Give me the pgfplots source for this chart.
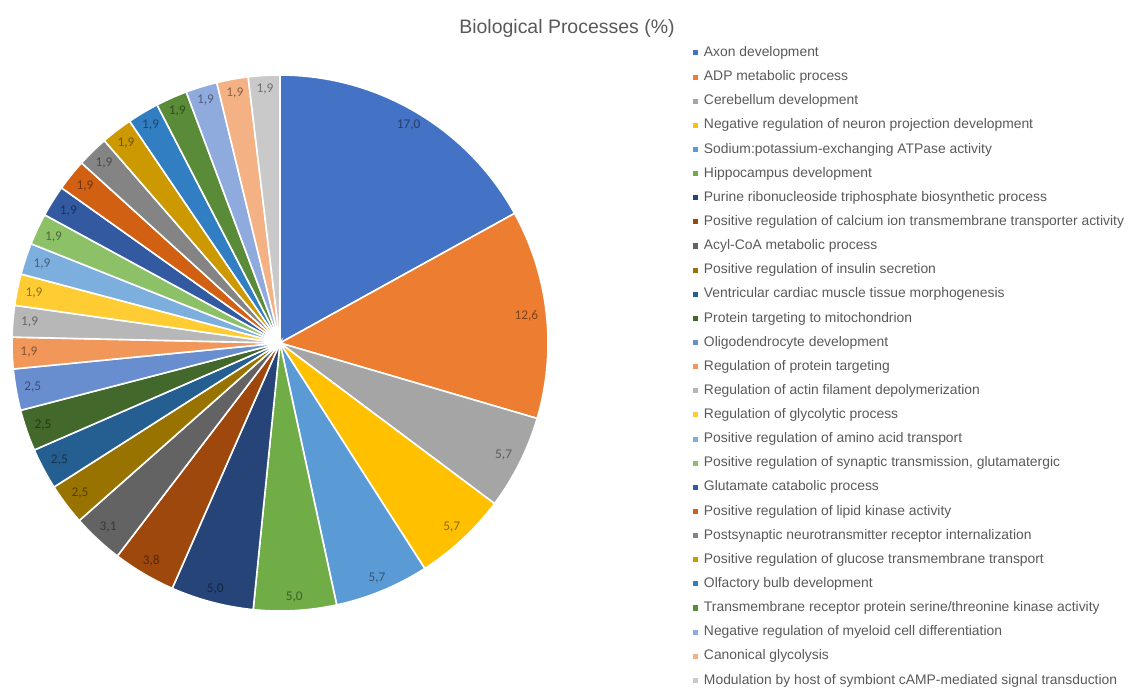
\documentclass[border=0pt]{standalone}
\usepackage{pgfplots}
\pgfplotsset{compat=1.18}
\usepackage{pgfplotstable}
\usepackage{fontspec}
\setmainfont{Liberation Sans}
\newfontfamily\labelfont{Carlito}

\definecolor{c1}{HTML}{4472C4}
\definecolor{c2}{HTML}{ED7D31}
\definecolor{c3}{HTML}{A5A5A5}
\definecolor{c4}{HTML}{FFC000}
\definecolor{c5}{HTML}{5B9BD5}
\definecolor{c6}{HTML}{70AD47}
\definecolor{c7}{HTML}{264478}
\definecolor{c8}{HTML}{9E480E}
\definecolor{c9}{HTML}{636363}
\definecolor{c10}{HTML}{997300}
\definecolor{c11}{HTML}{255E91}
\definecolor{c12}{HTML}{43682B}
\definecolor{c13}{HTML}{698ED0}
\definecolor{c14}{HTML}{F1975A}
\definecolor{c15}{HTML}{B7B7B7}
\definecolor{c16}{HTML}{FFCD33}
\definecolor{c17}{HTML}{7CAFDD}
\definecolor{c18}{HTML}{8CC168}
\definecolor{c19}{HTML}{335AA1}
\definecolor{c20}{HTML}{D26012}
\definecolor{c21}{HTML}{848484}
\definecolor{c22}{HTML}{CC9900}
\definecolor{c23}{HTML}{327EC2}
\definecolor{c24}{HTML}{5A8B39}
\definecolor{c25}{HTML}{8FAADC}
\definecolor{c26}{HTML}{F4B183}
\definecolor{c27}{HTML}{C9C9C9}
\definecolor{txt}{HTML}{595959}

\pgfplotstableread[col sep=semicolon]{
name;value;label
Axon development;17.0;17,0
ADP metabolic process;12.6;12,6
Cerebellum development;5.7;5,7
Negative regulation of neuron projection development;5.7;5,7
Sodium:potassium-exchanging ATPase activity;5.7;5,7
Hippocampus development;5.0;5,0
Purine ribonucleoside triphosphate biosynthetic process;5.0;5,0
Positive regulation of calcium ion transmembrane transporter activity;3.8;3,8
Acyl-CoA metabolic process;3.1;3,1
Positive regulation of insulin secretion;2.5;2,5
Ventricular cardiac muscle tissue morphogenesis;2.5;2,5
Protein targeting to mitochondrion;2.5;2,5
Oligodendrocyte development;2.5;2,5
Regulation of protein targeting;1.9;1,9
Regulation of actin filament depolymerization;1.9;1,9
Regulation of glycolytic process;1.9;1,9
Positive regulation of amino acid transport;1.9;1,9
Positive regulation of synaptic transmission, glutamatergic;1.9;1,9
Glutamate catabolic process;1.9;1,9
Positive regulation of lipid kinase activity;1.9;1,9
Postsynaptic neurotransmitter receptor internalization;1.9;1,9
Positive regulation of glucose transmembrane transport;1.9;1,9
Olfactory bulb development;1.9;1,9
Transmembrane receptor protein serine/threonine kinase activity;1.9;1,9
Negative regulation of myeloid cell differentiation;1.9;1,9
Canonical glycolysis;1.9;1,9
Modulation by host of symbiont cAMP-mediated signal transduction;1.9;1,9
}\data

\tikzset{lbl/.style={font=\labelfont\fontsize{10}{12}\selectfont, inner sep=1pt}}

\begin{document}
\begin{tikzpicture}
\useasboundingbox (-9pt,-57.75pt) rectangle (838.5pt,458.25pt);
\begin{axis}[
  at={(0,0)}, anchor=south west,
  scale only axis, width=402pt, height=402pt,
  xmin=-1, xmax=1, ymin=-1, ymax=1,
  hide axis, clip=false,
  legend cell align=left,
  legend image code/.code={\path[#1, draw=none] (0pt,-1.9pt) rectangle (3.8pt,1.9pt); \path[draw=none, fill=none] (0pt,0pt) -- (8.25pt,0pt);},
  legend style={draw=none, fill=none, inner sep=0pt, outer sep=0pt,
    font=\fontsize{10.4}{12}\selectfont, text=txt,
    row sep=8.6pt, column sep=0pt,
    nodes={inner sep=0pt, text height=7.5pt, text depth=2pt},
    at={(1.2705,1.0530)}, anchor=north west},
]
\def\total{0}
\pgfplotsforeachungrouped \i in {0,...,26} {
  \pgfplotstablegetelem{\i}{value}\of\data
  \pgfmathsetmacro\total{\total+\pgfplotsretval}
}
\def\cum{0}
\pgfplotsforeachungrouped \i in {0,...,26} {
  \pgfplotstablegetelem{\i}{value}\of\data \let\v\pgfplotsretval
  \pgfplotstablegetelem{\i}{name}\of\data \let\nm\pgfplotsretval
  \pgfplotstablegetelem{\i}{label}\of\data \let\lb\pgfplotsretval
  \pgfmathsetmacro\a{90-\cum/\total*360}
  \pgfmathsetmacro\cum{\cum+\v}
  \pgfmathsetmacro\b{90-\cum/\total*360}
  \pgfmathsetmacro\m{(\a+\b)/2}
  \pgfmathsetmacro\lx{0.975*cos(\m)}
  \pgfmathsetmacro\ly{0.975*sin(\m)}
  \pgfmathtruncatemacro\k{\i+1}
  \edef\temp{%
    \noexpand\addplot[fill=c\k, draw=white, line width=1.2pt, domain=\b:\a, samples=40, variable=\noexpand\t]
      ({cos(\noexpand\t)},{sin(\noexpand\t)}) -- (axis cs:0,0) -- cycle;
    \noexpand\addlegendentry{\nm}
    \noexpand\node[lbl, text=c\k!55!black, anchor=\m] at (axis cs:\lx,\ly) {\lb};
  }%
  \temp
}
\node[font=\fontsize{14.6}{17}\selectfont, text=txt, inner sep=0pt, anchor=center]
  at (rel axis cs:1.0354,1.0877) {Biological Processes (\%)};
\end{axis}
\end{tikzpicture}
\end{document}
